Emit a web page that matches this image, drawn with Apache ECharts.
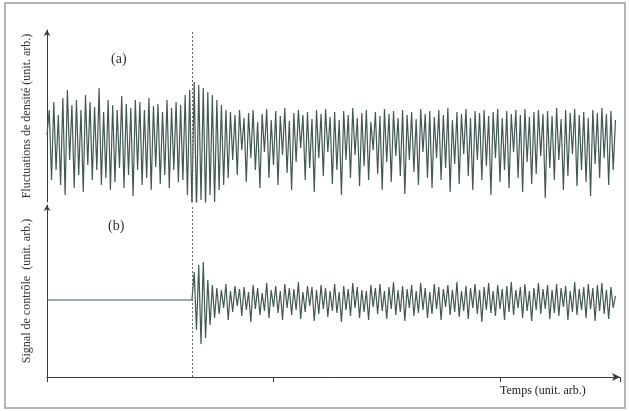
<!DOCTYPE html>
<html><head><meta charset="utf-8">
<script src="https://cdn.jsdelivr.net/npm/echarts@6/dist/echarts.min.js"></script>
<style>html,body{margin:0;padding:0;background:#fff}#c{width:630px;height:411px}</style>
</head><body><div id="c"></div>
<script>
// (a) density fluctuations, one value per time unit (t = 0..251)
const densityValues = [
  5, 30, -40, 38, -30, 25, -45, 42, -55, 50,
  -20, 35, -48, 40, -35, 30, -52, 45, -25, 38,
  -40, 33, -30, 52, -45, 28, -38, 40, -50, 35,
  -42, 30, -28, 44, -48, 36, -35, 32, -56, 40,
  -30, 38, -45, 30, -38, 42, -50, 34, -27, 36,
  -44, 28, -35, 40, -48, 32, -30, 38, -42, 35,
  -40, 45, -55, 50,
  -68, 58, -72, 55, -60, 52, -66, 48, -55, 45, -62, 40, -50, 35, -45, 30, -38,
  28, -20, 25, -35, 30, -10, 22, -42, 27, -18,
  30, -30, 18, -48, 26, -12, 31, -38, 20, -25,
  29, -45, 24, -15, 32, -33, 19, -50, 27, -22,
  30, -8, 25, -40, 28, -28, 21, -52, 30, -18,
  26, -36, 31, -12, 23, -44, 28, -30, 20, -55,
  29, -20, 25, -38, 32, -15, 22, -46, 27, -26,
  30, -40, 18, -10, 28, -34, 24, -50, 31, -22,
  26, -42, 29, -16, 22, -36, 30, -54, 25, -20,
  28, -32, 21, -45, 31, -12, 26, -38, 29, -48,
  23, -18, 30, -40, 25, -28, 32, -52, 20, -24,
  28, -44, 26, -14, 31, -36, 22, -50, 29, -20,
  27, -40, 30, -26, 24, -55, 28, -18, 31, -42,
  22, -30, 29, -48, 26, -12, 30, -38, 25, -52,
  31, -22, 23, -44, 28, -34, 30, -16, 26, -58,
  29, -28, 24, -40, 32, -20, 21, -50, 30, -36,
  27, -14, 31, -46, 25, -30, 28, -42, 22, -56,
  30, -24, 27, -38, 32, -18, 26, -45, 29, -30, 20
];
// (b) control signal: zero until the switch time, then one value per time unit
const switchTime = 64;
const controlValues = [
  0, 28, -30, 35, -44, 38, -38, 20, -25, 15, -18, 12,
  -14, 10, -8, 16, -20, 9, -12, 14, -6, 11,
  -16, 13, -10, 8, -22, 15, -9, 12, -15, 7,
  -11, 17, -18, 10, -7, 14, -13, 9, -20, 16,
  -8, 12, -15, 11, -10, 18, -19, 8, -12, 14,
  -6, 13, -21, 10, -14, 15, -9, 12, -17, 9,
  -11, 16, -13, 8, -22, 14, -10, 11, -16, 17,
  -8, 13, -18, 10, -12, 9, -20, 15, -7, 12,
  -14, 16, -11, 9, -19, 13, -9, 18, -15, 10,
  -12, 14, -21, 11, -8, 15, -16, 9, -13, 17,
  -10, 12, -18, 8, -14, 16, -9, 13, -20, 11,
  -7, 15, -15, 10, -12, 18, -17, 9, -11, 14,
  -19, 12, -8, 16, -14, 10, -22, 13, -10, 17,
  -13, 9, -16, 15, -9, 11, -20, 14, -12, 18,
  -15, 10, -8, 13, -18, 16, -11, 9, -21, 12,
  -10, 17, -14, 11, -9, 15, -19, 10, -13, 16,
  -16, 12, -7, 14, -20, 9, -12, 18, -15, 11,
  -10, 13, -18, 16, -9, 12, -21, 15, -11, 17,
  -14, 10, -19, 13, -8, 4
];
const timeTickStep = 100;
const timeMax = 253;

const serif = 'Liberation Serif';
const lineColor = '#435855';
const axisColor = '#3a3a3a';

const densityData = densityValues.map((v, i) => [i, v]);
const controlData = [[0, 0]].concat(controlValues.map((v, i) => [switchTime + i, v]));

const chart = echarts.init(document.getElementById('c'), null, {renderer: 'canvas'});
const switchMark = {
  silent: true, symbol: ['none', 'none'], label: {show: false},
  lineStyle: {type: [2, 2], color: '#6a6a6a', width: 1},
  data: [{xAxis: switchTime}]
};
chart.setOption({
  animation: false,
  backgroundColor: '#fff',
  grid: [
    {left: 47, right: 10, top: 30, height: 172},
    {left: 47, right: 10, top: 205, height: 172}
  ],
  xAxis: [
    {gridIndex: 0, type: 'value', min: 0, max: timeMax, interval: timeTickStep, show: false},
    {gridIndex: 1, type: 'value', min: 0, max: timeMax, interval: timeTickStep,
     axisLine: {show: true, onZero: false, lineStyle: {color: axisColor, width: 1}, symbol: ['none', 'arrow'], symbolSize: [6, 8]},
     axisTick: {show: true, length: 5, lineStyle: {color: axisColor}},
     axisLabel: {show: false}, splitLine: {show: false}}
  ],
  yAxis: [
    {gridIndex: 0, type: 'value', min: -62, max: 110,
     name: 'Fluctuations de densité (unit. arb.)', nameLocation: 'middle', nameRotate: 90, nameGap: 14,
     nameTextStyle: {fontFamily: serif, fontSize: 12, color: '#333'},
     axisLine: {show: true, onZero: false, lineStyle: {color: axisColor, width: 1}, symbol: ['none', 'arrow'], symbolSize: [5, 6]},
     axisTick: {show: false}, axisLabel: {show: false}, splitLine: {show: false}},
    {gridIndex: 1, type: 'value', min: -77, max: 95,
     name: 'Signal de contrôle  (unit. arb.)', nameLocation: 'middle', nameRotate: 90, nameGap: 14,
     nameTextStyle: {fontFamily: serif, fontSize: 12, color: '#333'},
     axisLine: {show: true, onZero: false, lineStyle: {color: axisColor, width: 1}, symbol: ['none', 'arrow'], symbolSize: [5, 6]},
     axisTick: {show: false}, axisLabel: {show: false}, splitLine: {show: false}}
  ],
  series: [
    {type: 'line', xAxisIndex: 0, yAxisIndex: 0, data: densityData, showSymbol: false,
     lineStyle: {color: lineColor, width: 1.2}, markLine: switchMark},
    {type: 'line', xAxisIndex: 1, yAxisIndex: 1, data: controlData, showSymbol: false,
     lineStyle: {color: lineColor, width: 1.2}, markLine: switchMark}
  ],
  graphic: [
    {type: 'rect', shape: {x: 5, y: 3, width: 620, height: 405}, style: {fill: 'none', stroke: '#b4b4b4', lineWidth: 2}, silent: true},
    {type: 'text', left: 111, top: 52, style: {text: '(a)', font: '14px "Liberation Serif"', fill: '#333'}},
    {type: 'text', left: 108, top: 219, style: {text: '(b)', font: '14px "Liberation Serif"', fill: '#333'}},
    {type: 'text', left: 500, top: 385, style: {text: 'Temps (unit. arb.)', font: '12px "Liberation Serif"', fill: '#222'}}
  ]
});
</script></body></html>
